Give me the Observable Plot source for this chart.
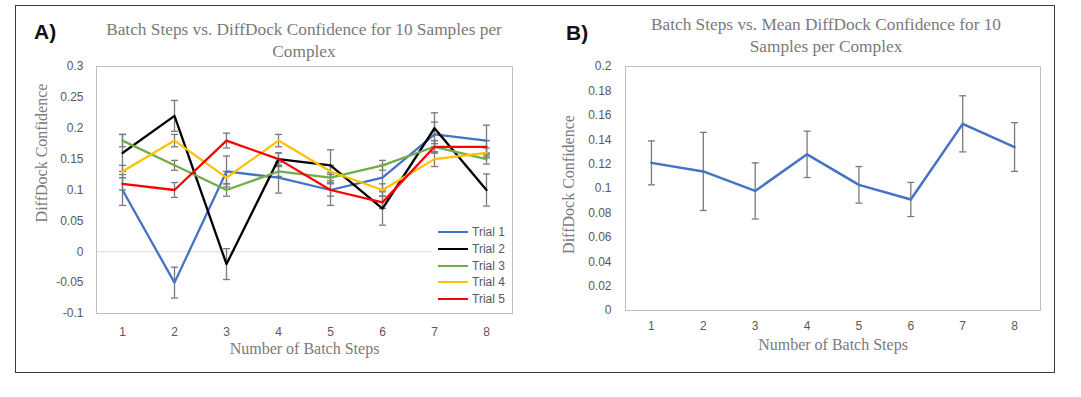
<!DOCTYPE html>
<html>
<head>
<meta charset="utf-8">
<script src="https://cdn.jsdelivr.net/npm/d3@7"></script>
<script src="https://cdn.jsdelivr.net/npm/@observablehq/plot@0.6"></script>
<style>
  body { margin: 0; background: #fff; }
  #root { position: relative; width: 1081px; height: 397px; background: #fff; overflow: hidden; }
  .frameBox { position: absolute; left: 15px; top: 5px; width: 1040px; height: 368px; border: 1.5px solid #3c3c3c; box-sizing: border-box; }
  .panel { position: absolute; top: 0; }
  .title { position: absolute; text-align: center; font-family: "Liberation Serif", serif; font-size: 17.3px; line-height: 22px; color: #7a7a7a; white-space: nowrap; }
  .tag { position: absolute; font-family: "Liberation Sans", Arial, sans-serif; font-weight: bold; font-size: 21px; color: #111; }
  .legend { position: absolute; left: 432px; top: 224px; width: 80px; background: #fff; font-family: "Liberation Sans", Arial, sans-serif; font-size: 12px; color: #595959; }
  .legend .row { height: 16.7px; display: flex; align-items: center; }
  .legend .sw { width: 30px; height: 0; border-top: 2.5px solid; margin-left: 6px; margin-right: 4px; }
</style>
</head>
<body>
<div id="root">
  <div class="frameBox"></div>
  <div id="panelA" class="panel" style="left:0px"></div>
  <div id="panelB" class="panel" style="left:540px"></div>
  <div id="titleA" class="title" style="left:94px; width:420px; top:19px"></div>
  <div id="titleB" class="title" style="left:616px; width:420px; top:14px"></div>
  <div class="tag" style="left:34px; top:20px">A)</div>
  <div class="tag" style="left:566px; top:21px">B)</div>
  <div id="legend" class="legend"></div>
</div>
<script>
// ---------- Data ----------
const steps = [1, 2, 3, 4, 5, 6, 7, 8];

const trialNames = ["Trial 1", "Trial 2", "Trial 3", "Trial 4", "Trial 5"];
const trial1 = [0.10, -0.05, 0.13, 0.12, 0.10, 0.12, 0.19, 0.18];
const trial2 = [0.16, 0.22, -0.02, 0.15, 0.14, 0.07, 0.20, 0.10];
const trial3 = [0.18, 0.14, 0.10, 0.13, 0.12, 0.14, 0.17, 0.15];
const trial4 = [0.13, 0.18, 0.12, 0.18, 0.13, 0.10, 0.15, 0.16];
const trial5 = [0.11, 0.10, 0.18, 0.15, 0.10, 0.08, 0.17, 0.17];

const err1 = [0.025, 0.025, 0.025, 0.025, 0.025, 0.02, 0.02, 0.025];
const err2 = [0.03, 0.025, 0.025, 0.01, 0.025, 0.027, 0.025, 0.026];
const err3 = [0.01, 0.008, 0.01, 0.008, 0.008, 0.008, 0.01, 0.008];
const err4 = [0.01, 0.01, 0.01, 0.01, 0.01, 0.01, 0.012, 0.008];
const err5 = [0.01, 0.012, 0.012, 0.01, 0.01, 0.01, 0.01, 0.01];

const meanConfidence = [0.121, 0.114, 0.098, 0.128, 0.103, 0.091, 0.153, 0.134];
const meanError = [0.018, 0.032, 0.023, 0.019, 0.015, 0.014, 0.023, 0.020];

const yTicksA = [-0.1, -0.05, 0, 0.05, 0.1, 0.15, 0.2, 0.25, 0.3];
const yTicksB = [0, 0.02, 0.04, 0.06, 0.08, 0.1, 0.12, 0.14, 0.16, 0.18, 0.2];

const titleALines = ["Batch Steps vs. DiffDock Confidence for 10 Samples per", "Complex"];
const titleBLines = ["Batch Steps vs. Mean DiffDock Confidence for 10", "Samples per Complex"];
const xLabel = "Number of Batch Steps";
const yLabel = "DiffDock Confidence";

// ---------- Styles ----------
const trialColors = ["#4472C4", "#000000", "#70AD47", "#FFC000", "#FF0000"];
const errColor = "#7a7a7a";
const tickFmt = d => String(+d.toFixed(2));
const capSymbol = { draw(ctx, size) { const r = Math.sqrt(size / Math.PI); ctx.moveTo(-r, 0); ctx.lineTo(r, 0); } };
const serif = "Liberation Serif, serif";

// ---------- Build tidy rows ----------
const trialValues = [trial1, trial2, trial3, trial4, trial5];
const trialErrors = [err1, err2, err3, err4, err5];
const rowsA = [];
trialNames.forEach((name, i) => {
  steps.forEach((s, j) => rowsA.push({ trial: name, step: s, value: trialValues[i][j], err: trialErrors[i][j] }));
});
const rowsB = steps.map((s, j) => ({ step: s, value: meanConfidence[j], err: meanError[j] }));

const baseStyle = { fontFamily: "Liberation Sans, Arial, sans-serif", fontSize: "12px", color: "#595959", background: "transparent", overflow: "visible" };

// ---------- Panel A ----------
const plotA = Plot.plot({
  width: 540, height: 397,
  marginLeft: 96, marginRight: 28, marginTop: 66, marginBottom: 84,
  style: baseStyle,
  x: { domain: [0.5, 8.5] },
  y: { domain: [-0.1, 0.3] },
  color: { domain: trialNames, range: trialColors },
  marks: [
    Plot.ruleY([0], { stroke: "#d9d9d9", strokeWidth: 1 }),
    Plot.frame({ stroke: "#c0c0c0", strokeWidth: 1 }),
    Plot.axisX(steps, { tickSize: 0, tickPadding: 14, tickFormat: d => String(d), label: null, fill: "#595959" }),
    Plot.axisY(yTicksA, { tickSize: 0, tickPadding: 13, tickFormat: tickFmt, label: null, fill: "#595959" }),
    Plot.ruleX(rowsA, { x: "step", y1: d => d.value - d.err, y2: d => d.value + d.err, stroke: errColor, strokeWidth: 1.3 }),
    Plot.dot(rowsA, { x: "step", y: d => d.value + d.err, symbol: capSymbol, r: 3.5, stroke: errColor, fill: "none", strokeWidth: 1.3 }),
    Plot.dot(rowsA, { x: "step", y: d => d.value - d.err, symbol: capSymbol, r: 3.5, stroke: errColor, fill: "none", strokeWidth: 1.3 }),
    Plot.line(rowsA, { x: "step", y: "value", z: "trial", stroke: "trial", strokeWidth: 2.3 }),
    Plot.text([xLabel], { text: d => d, frameAnchor: "bottom", textAnchor: "middle", dy: 40, fontFamily: serif, fontSize: 16, fill: "#7a7a7a" }),
    Plot.text([yLabel], { text: d => d, frameAnchor: "left", textAnchor: "middle", rotate: -90, dx: -55, dy: -37, fontFamily: serif, fontSize: 16, fill: "#7a7a7a" })
  ]
});
document.getElementById("panelA").appendChild(plotA);

// ---------- Panel B ----------
const plotB = Plot.plot({
  width: 541, height: 397,
  marginLeft: 85, marginRight: 41, marginTop: 66, marginBottom: 87,
  style: baseStyle,
  x: { domain: [0.5, 8.5] },
  y: { domain: [0, 0.2] },
  marks: [
    Plot.frame({ stroke: "#c0c0c0", strokeWidth: 1 }),
    Plot.axisX(steps, { tickSize: 0, tickPadding: 11, tickFormat: d => String(d), label: null, fill: "#595959" }),
    Plot.axisY(yTicksB, { tickSize: 0, tickPadding: 14, tickFormat: tickFmt, label: null, fill: "#595959" }),
    Plot.ruleX(rowsB, { x: "step", y1: d => d.value - d.err, y2: d => d.value + d.err, stroke: errColor, strokeWidth: 1.3 }),
    Plot.dot(rowsB, { x: "step", y: d => d.value + d.err, symbol: capSymbol, r: 3.5, stroke: errColor, fill: "none", strokeWidth: 1.3 }),
    Plot.dot(rowsB, { x: "step", y: d => d.value - d.err, symbol: capSymbol, r: 3.5, stroke: errColor, fill: "none", strokeWidth: 1.3 }),
    Plot.line(rowsB, { x: "step", y: "value", stroke: "#4472C4", strokeWidth: 2.5 }),
    Plot.text([xLabel], { text: d => d, frameAnchor: "bottom", textAnchor: "middle", dy: 39, fontFamily: serif, fontSize: 16, fill: "#7a7a7a" }),
    Plot.text([yLabel], { text: d => d, frameAnchor: "left", textAnchor: "middle", rotate: -90, dx: -57, dy: -4, fontFamily: serif, fontSize: 16, fill: "#7a7a7a" })
  ]
});
document.getElementById("panelB").appendChild(plotB);

// ---------- Titles & legend ----------
document.getElementById("titleA").innerHTML = titleALines.join("<br>");
document.getElementById("titleB").innerHTML = titleBLines.join("<br>");
const legend = document.getElementById("legend");
trialNames.forEach((name, i) => {
  const row = document.createElement("div");
  row.className = "row";
  const sw = document.createElement("span");
  sw.className = "sw";
  sw.style.borderTopColor = trialColors[i];
  const lab = document.createElement("span");
  lab.textContent = name;
  row.appendChild(sw); row.appendChild(lab);
  legend.appendChild(row);
});
</script>
</body>
</html>
